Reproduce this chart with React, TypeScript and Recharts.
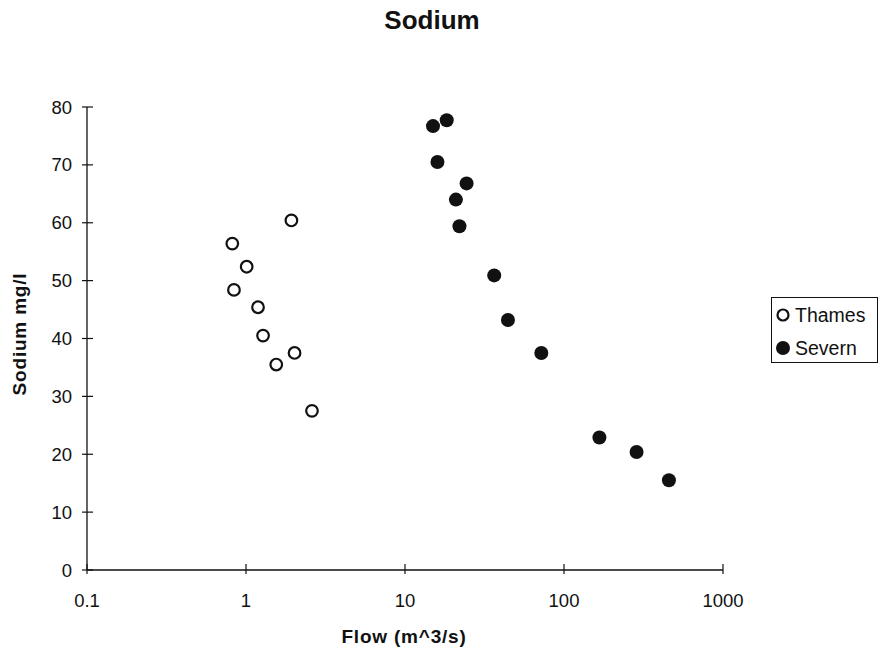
/**
 * App.tsx
 *
 * Sodium concentration against river flow for the Thames and the Severn.
 * Log flow axis (0.1 – 1000), linear sodium axis (0 – 80), scanned-print look.
 */
import { ScatterChart, Scatter, XAxis, YAxis } from 'recharts';

const thamesFlow = [1.93, 0.82, 1.01, 0.84, 1.19, 1.28, 2.02, 1.55, 2.6];
const thamesSodium = [60.4, 56.4, 52.4, 48.4, 45.4, 40.5, 37.5, 35.5, 27.5];

const severnFlow = [15.0, 18.3, 16.0, 24.4, 20.9, 22.0, 36.4, 44.4, 72, 167, 286, 457];
const severnSodium = [76.7, 77.7, 70.5, 66.8, 64.0, 59.4, 50.9, 43.2, 37.5, 22.9, 20.4, 15.5];

const flowTicks = [0.1, 1, 10, 100, 1000];
const sodiumTicks = [0, 10, 20, 30, 40, 50, 60, 70, 80];

const FONT = '"Liberation Sans", Arial, Helvetica, sans-serif';
const INK = '#111';

const thames = thamesFlow.map((flow, i) => ({ flow, sodium: thamesSodium[i] }));
const severn = severnFlow.map((flow, i) => ({ flow, sodium: severnSodium[i] }));

const OpenDot = (p: any) => (
  <circle cx={p.cx} cy={p.cy} r={5.8} fill="#fff" stroke={INK} strokeWidth={2.2} />
);
const FilledDot = (p: any) => <circle cx={p.cx} cy={p.cy} r={7} fill={INK} />;

// ticks are drawn here so they cross the axis line like the original
const XTick = ({ x, y, payload }: any) => (
  <g>
    <line x1={x} x2={x} y1={y - 6} y2={y + 4} stroke={INK} strokeWidth={1.2} />
    <text x={x} y={y + 37} textAnchor="middle" fontSize={18.5} fill={INK} fontFamily={FONT}>
      {payload.value}
    </text>
  </g>
);

const YTick = ({ x, y, payload }: any) => (
  <g>
    <line x1={x - 5} x2={x + 6} y1={y} y2={y} stroke={INK} strokeWidth={1.2} />
    <text x={x - 15} y={y + 6.5} textAnchor="end" fontSize={18.5} fill={INK} fontFamily={FONT}>
      {payload.value}
    </text>
  </g>
);

const legendItems = [
  { name: 'Thames', open: true },
  { name: 'Severn', open: false },
];

const LegendBox = () => (
  <div
    style={{
      position: 'absolute', left: 771, top: 297, width: 107, height: 66,
      border: `1.5px solid ${INK}`, background: '#fff', boxSizing: 'border-box',
      fontFamily: FONT, fontSize: 19.5, color: INK,
    }}
  >
    {legendItems.map((it, i) => (
      <div
        key={it.name}
        style={{ position: 'absolute', left: 3, top: 6 + i * 33, height: 22, display: 'flex', alignItems: 'center' }}
      >
        <svg width={16} height={16} style={{ marginRight: 4 }}>
          {it.open
            ? <circle cx={8} cy={8} r={5.5} fill="#fff" stroke={INK} strokeWidth={2.2} />
            : <circle cx={8} cy={8} r={7} fill={INK} />}
        </svg>
        <span>{it.name}</span>
      </div>
    ))}
  </div>
);

export default function App() {
  return (
    <div style={{ position: 'absolute', left: 0, top: 0, width: 880, height: 656, background: '#fff' }}>
      <div
        style={{
          position: 'absolute', left: 0, top: 5, width: 864, textAlign: 'center',
          fontFamily: FONT, fontWeight: 'bold', fontSize: 26, color: INK, lineHeight: '30px',
        }}
      >
        Sodium
      </div>
      <ScatterChart width={880} height={656} margin={{ top: 107, right: 157, bottom: 46, left: 7 }}>
        <XAxis
          type="number" dataKey="flow" scale="log" domain={[0.1, 1000]} ticks={flowTicks}
          allowDataOverflow height={40} tickSize={0} tickMargin={0} tick={<XTick />}
          axisLine={{ stroke: INK, strokeWidth: 1.3 }}
          label={{
            content: () => (
              <text
                x={404} y={643} textAnchor="middle" fontSize={19} fontWeight="bold" letterSpacing={0.8}
                fill={INK} fontFamily={FONT}
              >
                Flow (m^3/s)
              </text>
            ),
          }}
        />
        <YAxis
          type="number" dataKey="sodium" domain={[0, 80]} ticks={sodiumTicks}
          width={80} tickSize={0} tickMargin={0} tick={<YTick />}
          axisLine={{ stroke: INK, strokeWidth: 1.3 }}
          label={{
            content: () => (
              <text
                x={19} y={334} textAnchor="middle" dominantBaseline="central" transform="rotate(-90 19 334)"
                fontSize={19} fontWeight="bold" letterSpacing={0.8} fill={INK} fontFamily={FONT}
              >
                Sodium mg/l
              </text>
            ),
          }}
        />
        <Scatter name="Thames" data={thames} shape={OpenDot} isAnimationActive={false} />
        <Scatter name="Severn" data={severn} shape={FilledDot} isAnimationActive={false} />
      </ScatterChart>
      <LegendBox />
    </div>
  );
}
